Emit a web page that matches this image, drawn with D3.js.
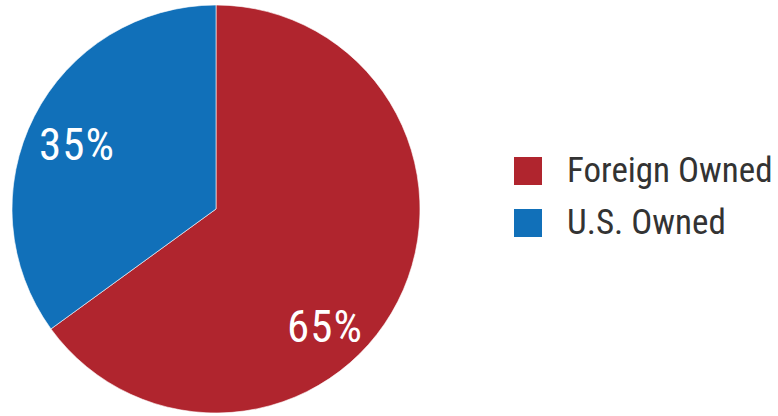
<!DOCTYPE html>
<html>
<head>
<meta charset="utf-8">
<script src="https://cdn.jsdelivr.net/npm/d3@7"></script>
<style>
  body { margin: 0; background: #fff; }
  svg text { font-family: "Roboto Condensed", "Liberation Sans Narrow", "Arial Narrow", "DejaVu Sans Condensed", sans-serif; }
</style>
</head>
<body>
<div id="chart"></div>
<script>
// ownership share, percent
var categories = ["Foreign Owned", "U.S. Owned"];
var shares = [65, 35];
var colors = ["#B0252E", "#1170B9"];

var width = 778, height = 416;
var cx = 216, cy = 209, radius = 204;

var svg = d3.select("#chart").append("svg")
    .attr("width", width)
    .attr("height", height);

var pie = d3.pie().sort(null).value(function(d) { return d; });
var arcs = pie(shares);
var arc = d3.arc().innerRadius(0).outerRadius(radius);

var g = svg.append("g").attr("transform", "translate(" + cx + "," + cy + ")");

g.selectAll("path").data(arcs).enter().append("path")
    .attr("d", arc)
    .attr("fill", function(d, i) { return colors[i]; })
    .attr("stroke", "#fff")
    .attr("stroke-width", 0.6);

// labels sit off the middle of the slice, like the original
var labelFrac = [0.59, 0.48];
var labelR = radius * 0.77;
g.selectAll("text.pct").data(arcs).enter().append("text")
    .attr("class", "pct")
    .attr("x", function(d, i) {
        var a = d.startAngle + (d.endAngle - d.startAngle) * labelFrac[i];
        return Math.sin(a) * labelR;
    })
    .attr("y", function(d, i) {
        var a = d.startAngle + (d.endAngle - d.startAngle) * labelFrac[i];
        return -Math.cos(a) * labelR;
    })
    .attr("dx", 4)
    .attr("dy", "0.36em")
    .attr("text-anchor", "middle")
    .attr("fill", "#fff")
    .style("font-size", "45px")
    .style("letter-spacing", "1px")
    .text(function(d) { return d.data + "%"; });

var legend = svg.append("g").attr("transform", "translate(514,157)");
var item = legend.selectAll("g").data(categories).enter().append("g")
    .attr("transform", function(d, i) { return "translate(0," + (i * 52) + ")"; });
item.append("rect")
    .attr("width", 28).attr("height", 28)
    .attr("fill", function(d, i) { return colors[i]; });
item.append("text")
    .attr("x", 53).attr("y", 25)
    .attr("fill", "#333")
    .style("font-size", "35px")
    .text(function(d) { return d; });
</script>
</body>
</html>
